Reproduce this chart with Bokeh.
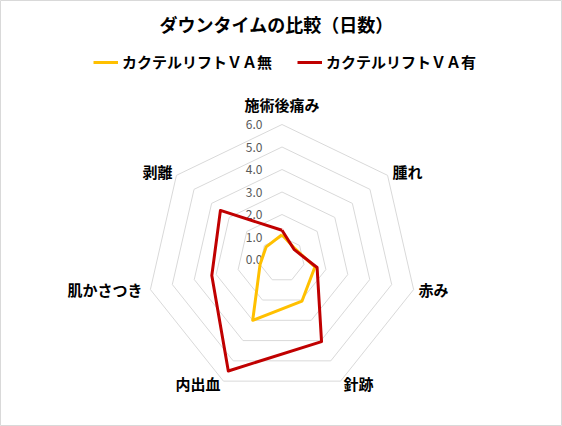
import math
from bokeh.plotting import figure
from bokeh.models import Range1d, Label, Legend, LegendItem
from bokeh.embed import file_html
from bokeh.resources import INLINE

# ---- data ----
categories = ["施術後痛み", "腫れ", "赤み", "針跡", "内出血", "肌かさつき", "剥離"]
series_names = ["カクテルリフトＶＡ無", "カクテルリフトＶＡ有"]
va_without = [1.1, 0.75, 1.5, 2.05, 3.0, 1.0, 0.9]
va_with = [1.3, 0.7, 1.6, 4.05, 5.5, 3.2, 3.5]
tick_values = [0, 1, 2, 3, 4, 5, 6]
tick_labels = ["0.0", "1.0", "2.0", "3.0", "4.0", "5.0", "6.0"]
title_text = "ダウンタイムの比較（日数）"

# ---- layout ----
W, H = 562, 426
CX, CY = 281.5, 259.0   # chart centre in screen px (from top-left)
K = 22.5                # px per unit
FONT = "Noto Sans CJK JP"
colors = ["#FFC000", "#C00000"]

p = figure(width=W, height=H, output_backend="svg", toolbar_location=None,
           x_range=Range1d(-CX / K, (W - CX) / K),
           y_range=Range1d(-(H - CY) / K, CY / K),
           x_axis_location=None, y_axis_location=None, min_border=0)
p.xgrid.visible = False
p.ygrid.visible = False
p.outline_line_color = "#d9d9d9"
p.outline_line_width = 1
p.background_fill_color = "white"
p.border_fill_color = "white"

n = len(categories)
ang = [2 * math.pi * i / n for i in range(n)]


def polar(vals):
    xs = [v * math.sin(a) for v, a in zip(vals, ang)]
    ys = [v * math.cos(a) for v, a in zip(vals, ang)]
    return xs + xs[:1], ys + ys[:1]


# grid rings
ring_xs, ring_ys = [], []
for t in tick_values[1:]:
    xs, ys = polar([t] * n)
    ring_xs.append(xs)
    ring_ys.append(ys)
p.multi_line(ring_xs, ring_ys, line_color="#d9d9d9", line_width=1)

# tick labels
p.text(x=[0] * len(tick_values), y=tick_values, text=tick_labels,
       text_align="right", text_baseline="middle", x_offset=-19.5,
       text_font_size="12px", text_color="#595959",
       text_font={"value": FONT})

# series
renderers = []
for vals, c in zip([va_without, va_with], colors):
    xs, ys = polar(vals)
    r = p.line(xs, ys, line_color=c, line_width=3, line_join="round")
    renderers.append(r)

# category labels
outer = max(tick_values)
label_style = [
    ("center", 0, 20),
    ("left", 5, 4),
    ("left", 5, 0),
    ("left", 3, -2.5),
    ("right", -3, -2.5),
    ("right", -8, 0),
    ("right", -4, 4),
]
for cat, a, (al, xo, yo) in zip(categories, ang, label_style):
    p.add_layout(Label(x=outer * math.sin(a), y=outer * math.cos(a), text=cat,
                       text_align=al, text_baseline="middle",
                       x_offset=xo, y_offset=yo,
                       text_font=FONT, text_font_size="15px",
                       text_font_style="bold", text_color="#000000"))

# title
p.add_layout(Label(x=276, y=H - 23, x_units="screen", y_units="screen",
                   text=title_text, text_align="center", text_baseline="middle",
                   text_font=FONT, text_font_size="18px", text_font_style="bold",
                   text_color="#000000"))

# legend
legend = Legend(items=[LegendItem(label=nm, renderers=[r])
                       for nm, r in zip(series_names, renderers)],
                orientation="horizontal", location=(93, H - 62 - 10),
                glyph_width=25, glyph_height=20, label_height=20,
                label_standoff=4, spacing=25, padding=0, margin=0,
                label_text_font=FONT, label_text_font_size="15px",
                label_text_font_style="bold", label_text_color="#000000",
                border_line_alpha=0, background_fill_alpha=0)
p.add_layout(legend)

open("out.html", "w").write(file_html(p, INLINE))
